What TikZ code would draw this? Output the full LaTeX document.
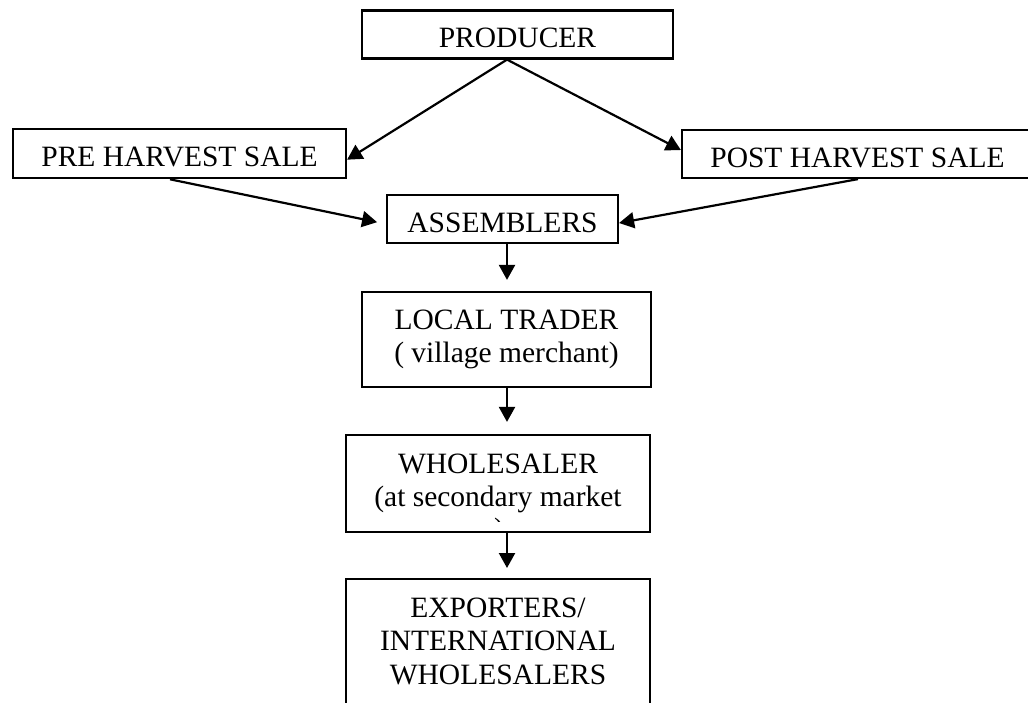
\documentclass[tikz,border=0pt]{standalone}
\usepackage{fontspec}
\setmainfont{Liberation Serif}
\usetikzlibrary{arrows.meta}
\tikzset{
  labelfont/.style={font=\fontsize{29.5pt}{33.5pt}\selectfont},
  box/.style={draw, rectangle, line width=2.2pt, inner sep=0pt, align=center, labelfont},
  oneline/.style={text height=26pt, text depth=0pt},
  flow/.style={line width=2.2pt, -{Triangle[length=15pt,width=16pt]}},
}
\begin{document}
\begin{tikzpicture}[x=1pt, y=-1pt]
\useasboundingbox (0,0) rectangle (1028,702);
\clip (0,0) rectangle (1028,702);

% boxes of the marketing chain
\node[box, oneline, minimum width=311pt, minimum height=48pt] (prod) at (517.5,34.5) {PRODUCER};
\node[box, oneline, minimum width=333pt, minimum height=49pt] (pre)  at (179.5,153.7) {PRE HARVEST SALE};
\node[box, oneline, minimum width=351pt, minimum height=48pt] (post) at (857.5,154) {POST HARVEST SALE};
\node[box, oneline, minimum width=231pt, minimum height=48pt] (asm)  at (502.5,219) {ASSEMBLERS};
\node[box, minimum width=289pt, minimum height=95pt] (lt) at (506.5,339.5) {LOCAL TRADER\\( village merchant)};
\node[box, minimum width=304pt, minimum height=97pt] (ws) at (498,483.5) {WHOLESALER\\(at secondary market};
% the lowest box runs past the bottom edge
\node[box, anchor=north, minimum width=304pt, inner ysep=19pt, text height=86pt, text depth=18pt] (exp) at (498,578)
  {EXPORTERS/\\INTERNATIONAL\\WHOLESALERS};

% overflowing closing bracket, cut off by the box margin
\begin{scope}
  \clip (ws.north west) rectangle ([yshift=11.5pt]ws.south east);
  \node[anchor=base west, inner sep=0pt, labelfont] (wsrest) at (494,538) {)};
\end{scope}

% central axis of the vertical flow
\coordinate (spine) at (507,0);

% connectors
\draw[flow] (prod.south -| spine) -- ([yshift=-6pt]pre.east);
\draw[flow] (prod.south -| spine) -- ([yshift=4pt]post.west);
\draw[flow, shorten >=9pt] ([xshift=-9.5pt]pre.south) -- ([yshift=-5pt]asm.west);
\draw[flow] ([xshift=0.5pt]post.south) -- ([yshift=-4pt]asm.east);
\draw[flow, shorten >=11pt] (asm.south -| spine) -- (lt.north -| spine);
\draw[flow, shorten >=12pt] (lt.south -| spine) -- (ws.north -| spine);
\draw[flow, shorten >=10pt] (ws.south -| spine) -- (exp.north -| spine);
\end{tikzpicture}
\end{document}
